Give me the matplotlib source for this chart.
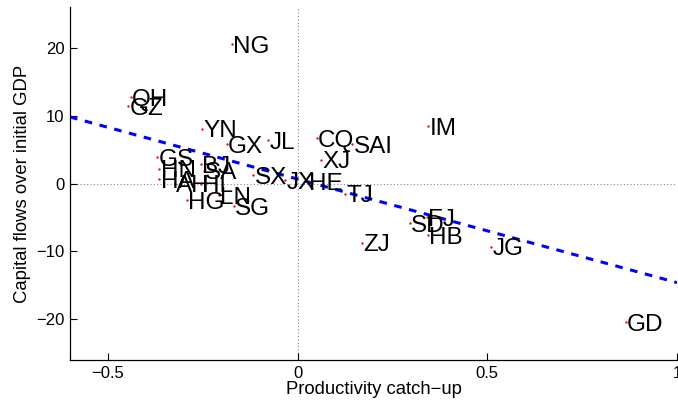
import matplotlib
matplotlib.use("Agg")
import matplotlib.pyplot as plt
import numpy as np

plt.rcParams['font.family'] = ['Liberation Sans', 'DejaVu Sans']

labels = ["NG", "QH", "GZ", "YN", "GX", "JL", "CQ", "SAI", "XJ", "IM",
          "GS", "HN", "BJ", "SA", "HA", "AH", "HL", "HG", "LN", "SG",
          "SX", "JX", "HE", "TJ", "ZJ", "SD", "FJ", "HB", "JG", "GD"]
catchup = [-0.174, -0.440, -0.447, -0.253, -0.187, -0.077, 0.050, 0.144, 0.062, 0.344,
           -0.371, -0.365, -0.255, -0.247, -0.365, -0.324, -0.256, -0.292, -0.207, -0.169,
           -0.117, -0.033, 0.026, 0.126, 0.170, 0.296, 0.341, 0.343, 0.511, 0.865]
flows = [20.5, 12.7, 11.4, 8.1, 5.8, 6.4, 6.7, 5.8, 3.5, 8.5,
         3.9, 2.2, 2.9, 1.9, 0.6, 0.0, 0.0, -2.4, -1.7, -3.3,
         1.25, 0.5, 0.3, -1.5, -8.7, -5.8, -5.0, -7.6, -9.3, -20.4]
fit_x = [-0.6, 1.0]
fit_y = [9.8, -14.6]

xticks = [-0.5, 0, 0.5, 1]
xticklabels = ["\u22120.5", "0", "0.5", "1"]
yticks = [-20, -10, 0, 10, 20]
yticklabels = ["\u221220", "\u221210", "0", "10", "20"]

fig = plt.figure(figsize=(6.78, 4.11), dpi=100)
ax = fig.add_axes([70/678, 51/411, 607/678, 353/411])

ax.axhline(0, color='#888888', linestyle=(0, (1, 2)), linewidth=0.8, zorder=1)
ax.axvline(0, color='#888888', linestyle=(0, (1, 2)), linewidth=0.8, zorder=1)

ax.plot(fit_x, fit_y, color='#0000ff', linestyle=(0, (2.5, 2.5)), linewidth=2.2, zorder=2)
ax.plot(catchup, flows, linestyle='none', marker='.', markersize=1.4, color='red', zorder=3)

fs = 17.5
for lab, x, y in zip(labels, catchup, flows):
    ax.annotate(lab, (x, y), xytext=(1, -0.36 * fs), textcoords='offset points',
                ha='left', va='baseline', fontsize=fs, color='black', zorder=4)

ax.set_xlim(-0.6, 1.0)
ax.set_ylim(-26, 26)
ax.set_xticks(xticks)
ax.set_xticklabels(xticklabels)
ax.set_yticks(yticks)
ax.set_yticklabels(yticklabels)
ax.tick_params(direction='in', length=5, width=0.8, labelsize=12, pad=4)
for s in ['top', 'right']:
    ax.spines[s].set_visible(False)
for s in ['left', 'bottom']:
    ax.spines[s].set_linewidth(0.9)

ax.set_xlabel("Productivity catch\u2212up", fontsize=13.3, labelpad=0)
ax.set_ylabel("Capital flows over initial GDP", fontsize=13.3, labelpad=4)

fig.savefig("out.png", dpi=100)
